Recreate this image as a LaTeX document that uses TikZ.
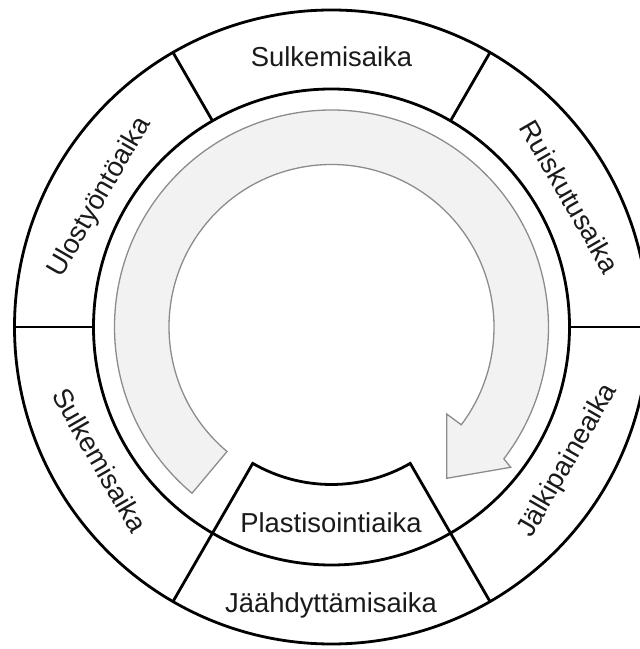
\documentclass[tikz,border=0pt]{standalone}
\usepackage{fontspec}
\setmainfont{Liberation Sans}
\definecolor{arrowfill}{HTML}{F2F2F2}
\definecolor{arrowline}{HTML}{8C8C8C}
\definecolor{txt}{HTML}{1A1A1A}
\begin{document}
\begin{tikzpicture}[x=1pt,y=1pt,
  ring/.style={line width=2.8pt, line join=miter},
  lbl/.style={inner sep=0pt, text=txt, font=\fontsize{27.4}{30}\selectfont},
  arrowband/.style={fill=arrowfill, draw=arrowline, line width=1.3pt, line join=miter}]
\useasboundingbox (0,0) rectangle (640,649);
\clip (0,0) rectangle (640,649);
\coordinate (C) at (331.5,322);
% head vertices
\coordinate (hb) at (510.7,181.7);
\coordinate (ht) at (446.7,170.7);
\coordinate (ha) at (446.7,235);
% cycle arrow
\draw[arrowband] ([shift={(230:217pt)}]C) arc[start angle=230, end angle=-37.4, radius=217pt]
  -- (hb) -- (ht) -- (ha) -- ([shift={(-37:162.5pt)}]C)
  arc[start angle=-37, end angle=230, radius=162.5pt] -- cycle;
% rings
\draw[ring] (C) circle[radius=317pt];
\draw[ring] (C) circle[radius=238pt];
\foreach \a in {0,60,120,180}
  \draw[ring] ([shift={(\a:238pt)}]C) -- ([shift={(\a:317pt)}]C);
\draw[ring] ([shift={(240:317pt)}]C) -- ([shift={(240:157.5pt)}]C)
  arc[start angle=240, end angle=300, radius=157.5pt] -- ([shift={(300:317pt)}]C);
% labels
\node[lbl] (sulk1) at (331.5,592.6) {Sulkemisaika};
\node[lbl, rotate=-60] (ruis) at (570,452.3) {Ruiskutusaika};
\node[lbl, rotate=60] (jalki) at (568.3,188.2) {Jälkipaineaika};
\node[lbl] (jaah) at (331,44) {Jäähdyttämisaika};
\node[lbl] (plast) at (331,126) {Plastisointiaika};
\node[lbl, rotate=-60] (sulk2) at (100,189) {Sulkemisaika};
\node[lbl, rotate=60] (ulos) at (100,451.5) {Ulostyöntöaika};
\end{tikzpicture}
\end{document}
